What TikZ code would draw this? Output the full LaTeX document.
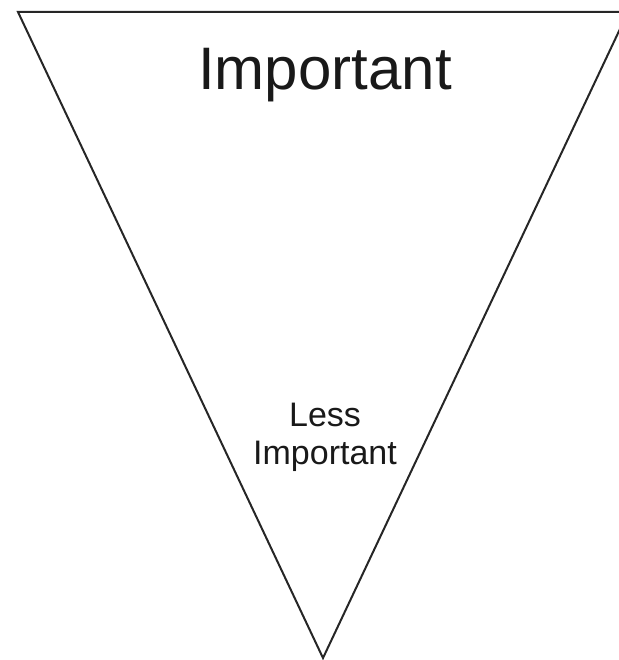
\documentclass[tikz,border=0pt]{standalone}
\usepackage{fontspec}
\setmainfont{Liberation Sans}
\begin{document}
\begin{tikzpicture}[x=1pt,y=-1pt,
  edge/.style={draw=black!85,line width=2pt,line join=miter},
  bigtext/.style={inner sep=0pt,text=black!90,font=\fontsize{60}{72}\selectfont},
  smalltext/.style={inner sep=0pt,text=black!90,align=center,font=\fontsize{34}{38}\selectfont}]
\useasboundingbox (0,0) rectangle (618,660);
\coordinate (tl) at (18,12);
\coordinate (tr) at (628,12);
\coordinate (bot) at (323,658);
\draw[edge] (tl) -- (tr) -- (bot) -- cycle;
\node[bigtext] (imp) at (325,75) {Important};
\node[smalltext] (less) at (325,437) {Less\\Important};
\end{tikzpicture}
\end{document}
